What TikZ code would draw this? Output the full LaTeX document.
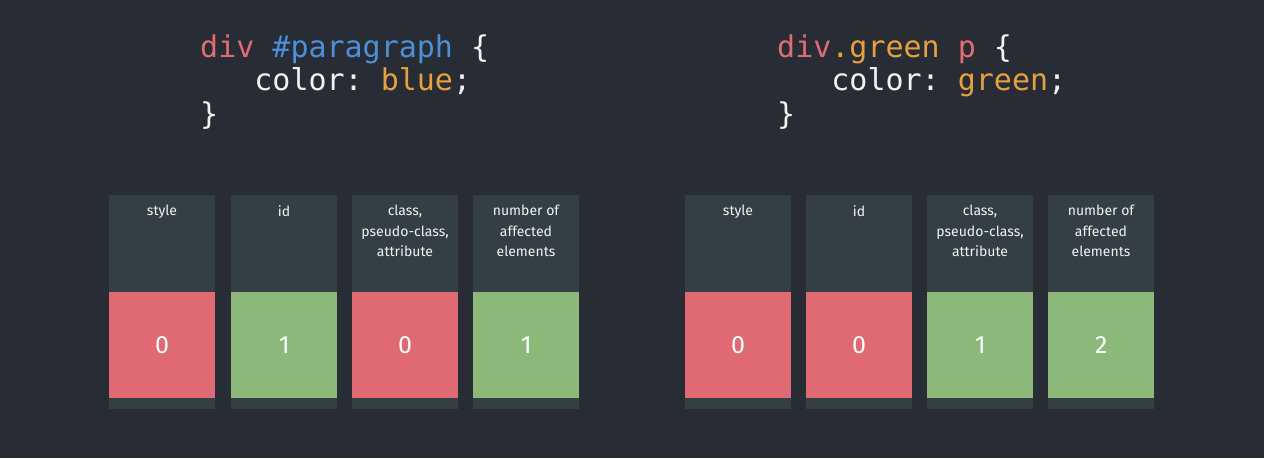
\documentclass[tikz,border=0pt]{standalone}
\usepackage{fontspec}
\setmainfont{Fira Sans}
\setmonofont{DejaVu Sans Mono}
\usetikzlibrary{positioning}

\definecolor{bgdark}{HTML}{282C34}
\definecolor{coldark}{HTML}{333F45}
\definecolor{cellred}{HTML}{E06A74}
\definecolor{cellgreen}{HTML}{8CB97A}
\definecolor{codered}{HTML}{E06C75}
\definecolor{codeblue}{HTML}{4D8FD8}
\definecolor{codeorange}{HTML}{E5A040}
\definecolor{codewhite}{HTML}{F2F2F2}

\tikzset{
  codeline/.style={anchor=base west, inner sep=0pt, text=codewhite,
    font=\fontsize{30}{34}\ttfamily},
  column/.style={fill=coldark, anchor=north west, inner sep=0pt,
    minimum width=106pt, minimum height=214pt},
  colhead/.style={anchor=north, inner sep=0pt, text=codewhite, align=center,
    font=\fontsize{14}{20.5}\selectfont},
  valcell/.style={anchor=north west, inner sep=0pt, text=white,
    minimum width=106pt, minimum height=106pt, font=\fontsize{25}{25}\selectfont},
  redcell/.style={valcell, fill=cellred},
  greencell/.style={valcell, fill=cellgreen}
}

\begin{document}
\begin{tikzpicture}[x=1pt, y=-1pt]
  \fill[bgdark] (0,0) rectangle (1264,458);
  \useasboundingbox (0,0) rectangle (1264,458);

  % selector with id
  \node[codeline] (la) at (200,57) {\textcolor{codered}{div} \textcolor{codeblue}{\#paragraph} \{};
  \node[codeline] (lb) at (200,90.5) {\ \ \ color: \textcolor{codeorange}{blue};};
  \node[codeline] (lc) at (200,124) {\}};

  % selector with class
  \node[codeline] (ra) at (777,57) {\textcolor{codered}{div}\textcolor{codeorange}{.green} \textcolor{codered}{p} \{};
  \node[codeline] (rb) at (777,90.5) {\ \ \ color: \textcolor{codeorange}{green};};
  \node[codeline] (rc) at (777,124) {\}};

  % left table
  \node[column] (l1) at (109,195) {};
  \node[column] (l2) at (231,195) {};
  \node[column] (l3) at (352,195) {};
  \node[column] (l4) at (473,195) {};
  \node[colhead] (l1h) at (162,205) {style};
  \node[colhead] (l2h) at (284,205) {id};
  \node[colhead] (l3h) at (405,205) {class,\\pseudo-class,\\attribute};
  \node[colhead] (l4h) at (526,205) {number of\\affected\\elements};
  \node[redcell] (l1v) at (109,292) {0};
  \node[greencell] (l2v) at (231,292) {1};
  \node[redcell] (l3v) at (352,292) {0};
  \node[greencell] (l4v) at (473,292) {1};

  % right table
  \node[column] (r1) at (685,195) {};
  \node[column] (r2) at (806,195) {};
  \node[column] (r3) at (927,195) {};
  \node[column] (r4) at (1048,195) {};
  \node[colhead] (r1h) at (738,205) {style};
  \node[colhead] (r2h) at (859,205) {id};
  \node[colhead] (r3h) at (980,205) {class,\\pseudo-class,\\attribute};
  \node[colhead] (r4h) at (1101,205) {number of\\affected\\elements};
  \node[redcell] (r1v) at (685,292) {0};
  \node[redcell] (r2v) at (806,292) {0};
  \node[greencell] (r3v) at (927,292) {1};
  \node[greencell] (r4v) at (1048,292) {2};
\end{tikzpicture}
\end{document}
